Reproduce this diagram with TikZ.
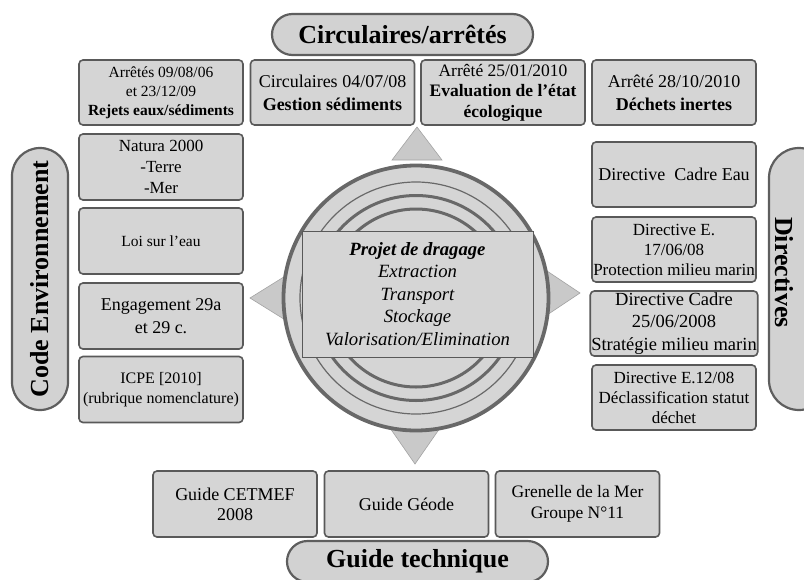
\documentclass[tikz,border=0pt]{standalone}
\usepackage{fontspec}
\setmainfont{Liberation Serif}
\usetikzlibrary{shapes.misc, positioning}

\definecolor{boxfill}{HTML}{D5D5D5}
\definecolor{boxline}{HTML}{595959}
\definecolor{pillfill}{HTML}{D2D2D2}
\definecolor{pillline}{HTML}{5E5E5E}
\definecolor{trifill}{HTML}{C9C9C9}
\definecolor{triline}{HTML}{A3A3A3}
\definecolor{ringline}{HTML}{686868}

\begin{document}
\begin{tikzpicture}[x=1pt,y=-1pt]
        \tikzstyle{cadre}=[draw=boxline, fill=boxfill, rounded corners=4pt, line width=1.6pt, align=center, inner sep=1pt, minimum width=164pt, minimum height=65pt]
        \tikzstyle{pilule}=[rounded rectangle, draw=pillline, fill=pillfill, line width=2.2pt, minimum width=261pt, minimum height=41pt, inner sep=0pt, font=\fontsize{26}{30}\selectfont\bfseries]
        \tikzstyle{fleche}=[fill=trifill, draw=triline, line width=0.6pt]
        \tikzstyle{anneau}=[draw=ringline]

        \useasboundingbox (0,0) rectangle (804,579);

        % Pointers around the circle
        \draw[fleche] (392,160) -- (442,160) -- (417,127) -- cycle;
        \draw[fleche] (390,428) -- (440,428) -- (415,464) -- cycle;
        \draw[fleche] (295,270) -- (295,326) -- (250,298) -- cycle;
        \draw[fleche] (538,265) -- (538,321) -- (580,293) -- cycle;

        % Central circle and rings
        \node[circle, draw=ringline, fill=boxfill, line width=3.8pt, minimum size=265pt, inner sep=0pt] (cercle) at (416,298) {};
        \draw[anneau, line width=1.2pt] (cercle.center) circle (116pt);
        \draw[anneau, line width=3pt] (cercle.center) circle (102.5pt);
        \draw[anneau, line width=3pt] (cercle.center) circle (89pt);

        \node[draw=boxline, fill=boxfill, line width=0.8pt, minimum width=231pt, minimum height=126pt, inner sep=0pt, align=center, font=\fontsize{18.7}{22.5}\selectfont\itshape] (projet) at (417.5,294)
            {\textbf{Projet de dragage}\\Extraction\\Transport\\Stockage\\Valorisation/Elimination};

        % Headings
        \node[pilule] (circ) at (402.5,34.5) {Circulaires/arrêtés};
        \node[pilule] (guide) at (417.5,561.5) {Guide technique};
        \node[pilule, rotate=90, minimum width=262pt, minimum height=56pt] (code) at (40,279) {Code Environnement};
        \node[pilule, rotate=-90, minimum width=262pt, minimum height=60pt] (dir) at (799,279) {};
        \node[rotate=-90, font=\fontsize{26}{30}\selectfont\bfseries] (dir-txt) at (784,272.5) {Directives};

        % Draw the top row
        \foreach \name/\x/\fs/\bs/\txt in {
            1/161/15.5/19/{Arrêtés 09/08/06\\et 23/12/09\\\textbf{Rejets eaux/sédiments}},
            2/332.5/18/23/{Circulaires 04/07/08\\\textbf{Gestion sédiments}},
            3/503/17.5/20.5/{Arrêté 25/01/2010\\\textbf{Evaluation de l’état}\\\textbf{écologique}},
            4/674/18/23/{Arrêté 28/10/2010\\\textbf{Déchets inertes}}}
            \node[cadre, font=\fontsize{\fs}{\bs}\selectfont] (T-\name) at (\x,92.5) {\txt};

        % Draw the left column
        \foreach \name/\y/\fs/\bs/\txt in {
            1/167/17/21/{Natura 2000\\-Terre\\-Mer},
            2/241/15.5/19/{Loi sur l’eau},
            3/316/18/23/{Engagement 29a\\et 29 c.},
            4/389.5/16/20/{ICPE [2010]\\(rubrique nomenclature)}}
            \node[cadre, minimum height=66pt, font=\fontsize{\fs}{\bs}\selectfont] (L-\name) at (161,\y) {\txt};

        % Draw the right column
        \foreach \name/\y/\fs/\bs/\txt in {
            1/174.5/18/22/{Directive\ \ Cadre Eau},
            2/249.5/17/20/{Directive E.\\17/06/08\\Protection milieu marin},
            3/323.5/18.5/22.5/{Directive Cadre\\25/06/2008\\Stratégie milieu marin},
            4/397.5/17/20/{Directive E.12/08\\Déclassification statut\\déchet}}
            \node[cadre, font=\fontsize{\fs}{\bs}\selectfont] (R-\name) at (674,\y) {\txt};

        % Draw the bottom row
        \foreach \name/\x/\fs/\bs/\txt in {
            1/235/18/20/{Guide CETMEF\\2008},
            2/406.5/18/20/{Guide Géode},
            3/577.5/17.5/21/{Grenelle de la Mer\\Groupe N°11}}
            \node[cadre, minimum height=66pt, font=\fontsize{\fs}{\bs}\selectfont] (B-\name) at (\x,504) {\txt};

\end{tikzpicture}
\end{document}
